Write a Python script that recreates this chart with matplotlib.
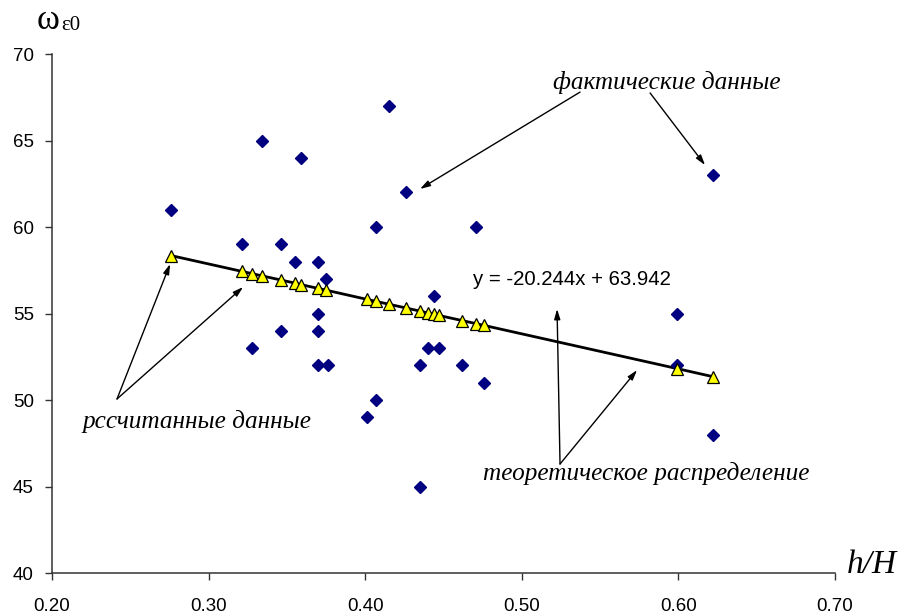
import matplotlib
matplotlib.use("Agg")
import matplotlib.pyplot as plt
from matplotlib.ticker import FormatStrFormatter

# --- Data ---
# actual observations (h/H, omega)
actual_x = [0.276, 0.321, 0.334, 0.346, 0.355, 0.359, 0.370, 0.375,
            0.370, 0.370, 0.370, 0.376, 0.328, 0.346, 0.407, 0.401,
            0.407, 0.415, 0.426, 0.435, 0.435, 0.440, 0.447, 0.444,
            0.462, 0.471, 0.476, 0.622, 0.599, 0.599, 0.622]
actual_y = [61, 59, 65, 59, 58, 64, 58, 57,
            55, 54, 52, 52, 53, 54, 60, 49,
            50, 67, 62, 52, 45, 53, 53, 56,
            52, 60, 51, 63, 55, 52, 48]

# calculated values (lie on the regression line)
calc_x = [0.276, 0.321, 0.328, 0.334, 0.346, 0.355, 0.359, 0.370, 0.375,
          0.401, 0.407, 0.415, 0.426, 0.435, 0.440, 0.444, 0.447, 0.462,
          0.471, 0.476, 0.599, 0.622]
calc_y = [58.35, 57.44, 57.30, 57.18, 56.94, 56.76, 56.67, 56.45, 56.35,
          55.82, 55.70, 55.54, 55.32, 55.14, 55.03, 54.95, 54.89, 54.59,
          54.41, 54.31, 51.82, 51.35]

x_ticks = [0.20, 0.30, 0.40, 0.50, 0.60, 0.70]
y_ticks = [40, 45, 50, 55, 60, 65, 70]

SERIF = ["Liberation Serif", "DejaVu Serif"]
SANS = ["Liberation Sans", "DejaVu Sans"]
plt.rcParams["font.family"] = SANS

fig = plt.figure(figsize=(9, 6.16), dpi=100)
ax = fig.add_axes([0.0578, 0.0698, 0.87, 0.8425])

ax.plot(calc_x, calc_y, color="black", linewidth=2.0, zorder=2)
ax.plot(actual_x, actual_y, linestyle="none", marker="D", markersize=6.5,
        color="#000080", markeredgecolor="#000080", zorder=3)
ax.plot(calc_x, calc_y, linestyle="none", marker="^", markersize=9,
        markerfacecolor="#FFFF00", markeredgecolor="black",
        markeredgewidth=0.9, zorder=4)

ax.set_xlim(0.2, 0.7)
ax.set_ylim(40, 70)
ax.set_xticks(x_ticks)
ax.set_yticks(y_ticks)
ax.xaxis.set_major_formatter(FormatStrFormatter("%.2f"))
ax.tick_params(axis="both", direction="out", length=5, width=1,
               color="#333333", labelsize=13.5)
ax.tick_params(axis="x", pad=13)
ax.tick_params(axis="y", pad=8)
for side in ("top", "right"):
    ax.spines[side].set_visible(False)
for side in ("left", "bottom"):
    ax.spines[side].set_color("#333333")
    ax.spines[side].set_linewidth(1.1)

# --- Annotations ---
arrow_kw = dict(arrowstyle="-|>,head_length=0.6,head_width=0.18",
                color="black", lw=1.0, shrinkA=0, shrinkB=0)
text_kw = dict(family=SERIF, style="italic", fontsize=18.2,
               ha="center", va="center")

ax.text(0.5927, 68.38, "фактические данные", **text_kw)
ax.annotate("", xy=(0.4350, 62.2), xytext=(0.5372, 67.80), arrowprops=arrow_kw)
ax.annotate("", xy=(0.6170, 63.58), xytext=(0.5819, 67.75), arrowprops=arrow_kw)

ax.text(0.2926, 48.73, "рссчитанные данные", **text_kw)
ax.annotate("", xy=(0.2754, 57.86), xytext=(0.2415, 50.06), arrowprops=arrow_kw)
ax.annotate("", xy=(0.3220, 56.53), xytext=(0.2415, 50.06), arrowprops=arrow_kw)

ax.text(0.5793, 45.78, "теоретическое распределение", **text_kw)
ax.annotate("", xy=(0.5225, 55.26), xytext=(0.5244, 46.30), arrowprops=arrow_kw)
ax.annotate("", xy=(0.5736, 51.73), xytext=(0.5244, 46.30), arrowprops=arrow_kw)

ax.text(0.4688, 56.94, "y = -20.244x + 63.942", family=SANS, fontsize=14.7,
        ha="left", va="center")

# axis titles
fig.text(0.041, 0.966, "ω", family=SERIF, fontsize=25, ha="left", va="center")
fig.text(0.068, 0.958, "ε0", family=SERIF, fontsize=15, ha="left", va="center")
fig.text(0.969, 0.083, "h/H", family=SERIF, style="italic", fontsize=24,
         ha="center", va="center")

fig.savefig("out.png", dpi=100)
